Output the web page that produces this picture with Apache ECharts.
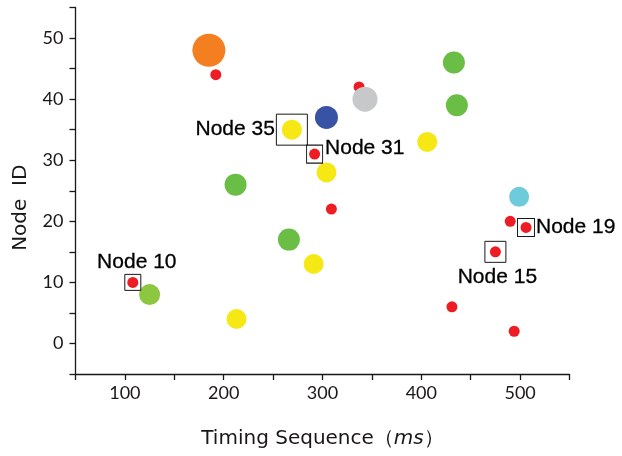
<!DOCTYPE html>
<html>
<head>
<meta charset="utf-8">
<script src="https://cdn.jsdelivr.net/npm/echarts@6/dist/echarts.min.js"></script>
<style>
  html, body { margin: 0; padding: 0; background: #fff; }
  #main { width: 622px; height: 456px; }
</style>
</head>
<body>
<div id="main"></div>
<script>
// data: [timing (ms), node id]
var redNodes    = [[192, 44], [292, 31], [337, 42], [309, 22], [490, 20], [506, 19], [475, 15], [431, 6], [494, 2], [108, 10]];
var yellowNodes = [[269, 35], [304, 28], [406, 33], [291, 13], [213, 4]];
var greenNodes  = [[433, 46], [436, 39], [212, 26], [266, 17]];
var limeNodes   = [[125, 8]];
var orangeNodes = [[185, 48]];
var blueNodes   = [[304, 37]];
var grayNodes   = [[343, 40]];
var cyanNodes   = [[499, 24]];

// boxed / labelled nodes
var markNames  = ['Node 35', 'Node 31', 'Node 10', 'Node 15', 'Node 19'];
var markPoints = [[269, 35], [292, 31], [108, 10], [475, 15], [506, 19]];

var xTicks = [100, 200, 300, 400, 500];
var yTicks = [0, 10, 20, 30, 40, 50];

var ink = '#1a1718';

// box size and label placement per marked node
var boxStyle = {
    'Node 35': { size: [31, 31], pos: 'left',   dist: 1, off: [0, 0] },
    'Node 31': { size: [16, 18], pos: 'right',  dist: 2, off: [0, -6] },
    'Node 10': { size: [16, 16], pos: 'top',    dist: 1, off: [4, 0] },
    'Node 15': { size: [21, 21], pos: 'bottom', dist: 4, off: [2, 0] },
    'Node 19': { size: [17, 18], pos: 'right',  dist: 1, off: [0, 0] }
};

function dots(name, data, color, size) {
    return {
        name: name,
        type: 'scatter',
        data: data,
        symbolSize: size,
        itemStyle: { color: color, opacity: 1 },
        emphasis: { disabled: true },
        silent: true
    };
}

var markData = markPoints.map(function (p, i) {
    var s = boxStyle[markNames[i]];
    return {
        name: markNames[i],
        value: p,
        symbolSize: s.size,
        label: { position: s.pos, distance: s.dist, offset: s.off }
    };
});

var myChart = echarts.init(document.getElementById('main'), null, { renderer: 'canvas' });

var option = {
    animation: false,
    backgroundColor: '#fff',
    grid: { left: 75.5, right: 52.5, top: 7.5, bottom: 82, containLabel: false },
    xAxis: {
        type: 'value',
        min: 50,
        max: 550,
        interval: 50,
        splitLine: { show: false },
        axisLine: { show: true, onZero: false, lineStyle: { color: ink, width: 1.3 } },
        axisTick: { show: true, length: 6, lineStyle: { color: ink, width: 1.3 } },
        axisLabel: {
            margin: 10,
            color: ink,
            fontFamily: 'Lato',
            fontSize: 18,
            formatter: function (v) { return xTicks.indexOf(v) >= 0 ? String(v) : ''; }
        },
        name: '{a|Timing Sequence（}{b|ms}{a|）}',
        nameLocation: 'middle',
        nameGap: 55,
        nameTextStyle: {
            rich: {
                a: { fontFamily: 'DejaVu Sans', fontSize: 20, color: ink },
                b: { fontFamily: 'DejaVu Sans', fontSize: 20, fontStyle: 'italic', color: ink }
            }
        }
    },
    yAxis: {
        type: 'value',
        min: -5,
        max: 55,
        interval: 5,
        splitLine: { show: false },
        axisLine: { show: true, onZero: false, lineStyle: { color: ink, width: 1.3 } },
        axisTick: { show: true, length: 6, lineStyle: { color: ink, width: 1.3 } },
        axisLabel: {
            margin: 12,
            color: ink,
            fontFamily: 'Lato',
            fontSize: 18,
            formatter: function (v) { return yTicks.indexOf(v) >= 0 ? String(v) : ''; }
        },
        name: 'Node  ID',
        nameLocation: 'middle',
        nameGap: 45,
        nameTextStyle: {
            fontFamily: 'DejaVu Sans',
            fontSize: 20,
            color: ink,
            padding: [0, 34, 0, 0]
        }
    },
    series: [
        dots('red', redNodes, '#EE1D23', 11),
        dots('yellow', yellowNodes, '#F6E815', 20),
        dots('green', greenNodes, '#6ABD45', 22),
        dots('lime', limeNodes, '#8DC63F', 21),
        dots('orange', orangeNodes, '#F47F20', 33),
        dots('blue', blueNodes, '#3853A4', 23),
        dots('gray', grayNodes, '#C7C8CA', 25),
        dots('cyan', cyanNodes, '#6DCBDC', 20),
        {
            name: 'marked',
            type: 'scatter',
            symbol: 'rect',
            data: markData,
            z: 5,
            silent: true,
            emphasis: { disabled: true },
            itemStyle: { color: 'rgba(0,0,0,0)', borderColor: ink, borderWidth: 1, opacity: 1 },
            label: {
                show: true,
                formatter: '{b}',
                color: '#000',
                opacity: 1,
                textBorderColor: '#000',
                textBorderWidth: 0.3,
                fontFamily: 'Liberation Sans',
                fontSize: 21
            }
        }
    ]
};

myChart.setOption(option);
</script>
</body>
</html>
